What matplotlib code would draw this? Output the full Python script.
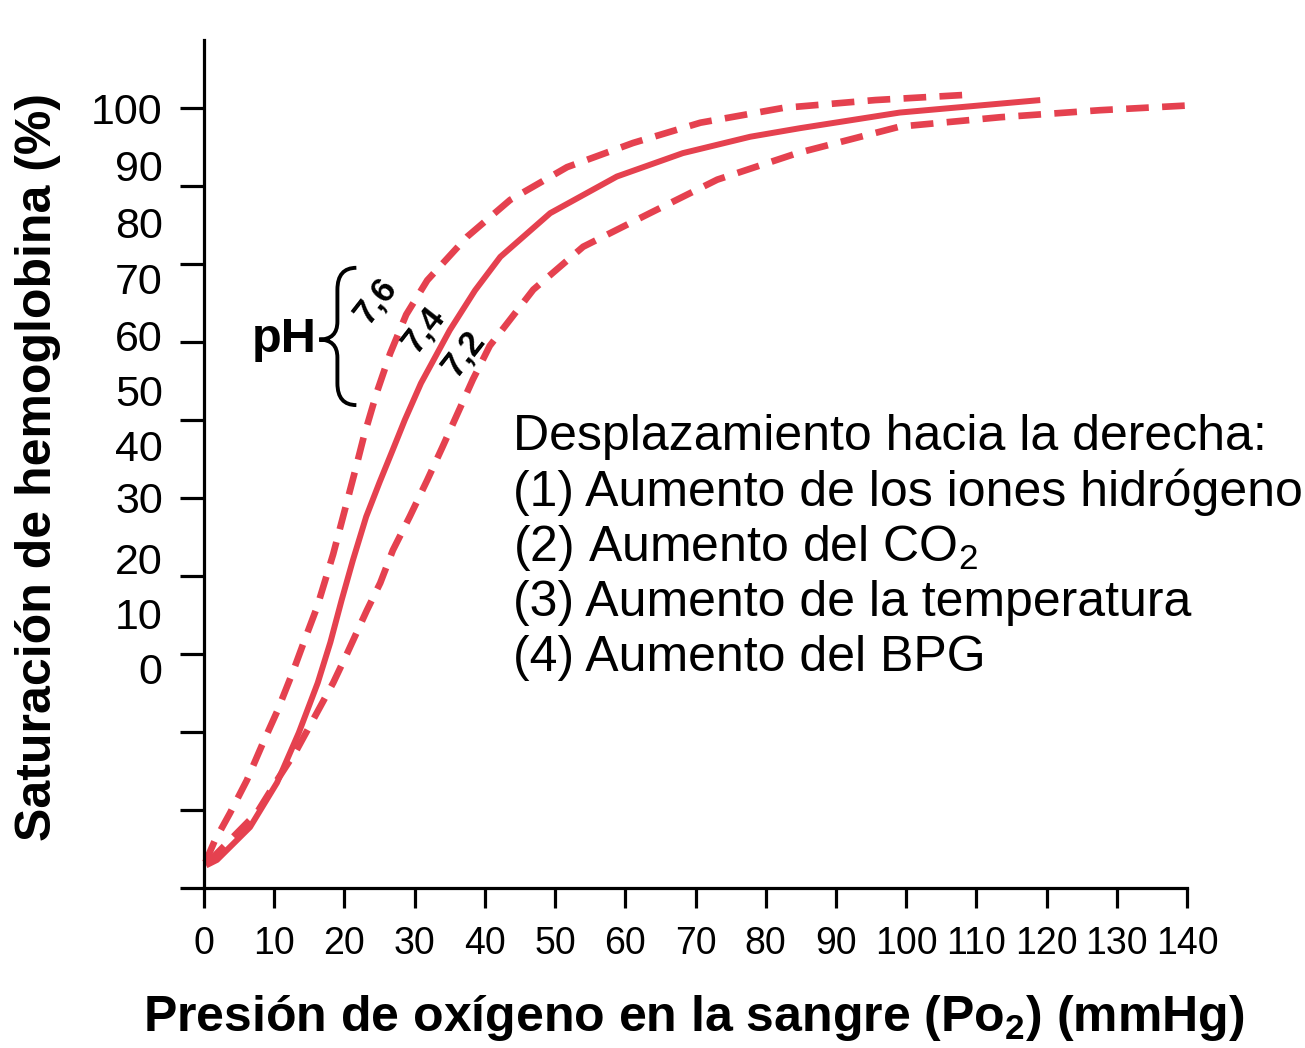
import matplotlib
matplotlib.use("Agg")
import matplotlib.pyplot as plt
from matplotlib.path import Path
from matplotlib.patches import PathPatch

plt.rcParams['font.family'] = ['Liberation Sans', 'DejaVu Sans']
plt.rcParams['mathtext.fontset'] = 'custom'
plt.rcParams['mathtext.rm'] = 'Liberation Sans'
plt.rcParams['mathtext.bf'] = 'Liberation Sans:bold'

# curves: Po2 (mmHg) vs saturation (axis units)
po2_76 = [0.2, 1.5, 3.7, 6.1, 8.4, 10.4, 12.7, 14.5, 16.1, 18.4, 20.1, 21.5, 22.8, 24.6,
          26.5, 28.8, 31.8, 37.5, 43.6, 51.7, 61.1, 70.7, 82.5, 95.6, 109.1]
sat_76 = [3.3, 6.0, 9.6, 13.8, 18.6, 22.6, 27.8, 32.2, 36.0, 42.8, 48.6, 53.4, 58.0, 63.5,
          68.5, 73.5, 77.9, 83.5, 88.2, 92.4, 95.5, 98.1, 100.0, 101.0, 101.7]

po2_74 = [0.3, 1.85, 6.55, 10.4, 13.5, 16.2, 18.0, 19.6, 21.2, 23.1, 25.0, 26.9, 28.6,
          30.9, 35.0, 38.6, 42.2, 49.3, 58.8, 68.2, 77.8, 84.9, 99.1, 119.1]
sat_74 = [2.9, 3.6, 7.8, 13.5, 19.9, 26.3, 31.5, 36.9, 42.0, 47.6, 52.0, 56.2, 60.0,
          64.7, 71.5, 76.6, 80.9, 86.5, 91.2, 94.2, 96.3, 97.4, 99.4, 101.0]

po2_72 = [0.6, 4.1, 7.5, 10.4, 13.2, 15.5, 18.4, 20.4, 23.2, 25.1, 26.9, 29.3, 31.8,
          34.0, 36.2, 38.3, 40.7, 46.9, 54.0, 63.5, 73.1, 84.5, 99.1, 113.4, 127.6, 140.0]
sat_72 = [3.3, 6.5, 9.6, 13.8, 17.7, 21.5, 26.3, 30.1, 35.6, 39.1, 43.3, 47.6, 52.3,
          56.6, 61.0, 65.2, 69.5, 76.7, 82.2, 86.5, 90.8, 94.2, 97.6, 98.8, 99.7, 100.3]

x_ticks = list(range(0, 141, 10))
y_ticks = list(range(0, 101, 10))
# the printed labels on the y axis do not sit on the ticks in the original
y_labels = ['100', '90', '80', '70', '60', '50', '40', '30', '20', '10', '0']
y_label_at = [99.4, 92.1, 84.7, 77.6, 70.3, 63.2, 56.2, 49.5, 41.7, 34.6, 27.6]

ph_labels = ['7,6', '7,4', '7,2']
ph_label_x = [24.4, 31.3, 37.0]
ph_label_y = [75.3, 71.5, 68.5]

notes = ['Desplazamiento hacia la derecha:',
         '(1) Aumento de los iones hidrógeno',
         '(2) Aumento del CO$_2$',
         '(3) Aumento de la temperatura',
         '(4) Aumento del BPG']

red = '#e5414f'

fig = plt.figure(figsize=(13.05, 10.48), dpi=100)
ax = fig.add_axes([204/1305, 1-888/1048, (1187-204)/1305, (888-40)/1048])
ax.set_xlim(0, 140)
ax.set_ylim(0, 108.7)

ax.plot(po2_76, sat_76, color=red, lw=4.8, dashes=(3.4, 2.0), clip_on=False,
        dash_joinstyle='round')
ax.plot(po2_74, sat_74, color=red, lw=4.3, clip_on=False,
        solid_capstyle='butt', solid_joinstyle='round')
ax.plot(po2_72, sat_72, color=red, lw=4.8, dashes=(3.4, 2.0), clip_on=False,
        dash_joinstyle='round')

for s in ['top', 'right']:
    ax.spines[s].set_visible(False)
for s in ['left', 'bottom']:
    ax.spines[s].set_linewidth(2.3)

ax.set_xticks(x_ticks)
ax.set_xticklabels([str(v) for v in x_ticks], fontsize=27)
ax.tick_params(axis='x', length=14.5, width=2.3, pad=13, direction='out')
ax.set_yticks(y_ticks)
ax.set_yticklabels([''] * len(y_ticks))
ax.tick_params(axis='y', length=17.3, width=2.3, direction='out')

for lab, yv in zip(y_labels, y_label_at):
    ax.text(-0.042, yv, lab, transform=ax.get_yaxis_transform(),
            ha='right', va='center', fontsize=31)

# pH brace
bx, btop, bbot, bmid = 19.0, 79.5, 61.9, 70.3
verts = [(bx + 2.7, btop), (bx, btop), (bx, btop - 2.8),
         (bx, bmid + 2.3), (bx, bmid), (bx - 2.6, bmid),
         (bx, bmid), (bx, bmid - 2.3),
         (bx, bbot + 2.8), (bx, bbot), (bx + 2.7, bbot)]
codes = [Path.MOVETO, Path.CURVE3, Path.CURVE3,
         Path.LINETO, Path.CURVE3, Path.CURVE3,
         Path.CURVE3, Path.CURVE3,
         Path.LINETO, Path.CURVE3, Path.CURVE3]
ax.add_patch(PathPatch(Path(verts, codes), fill=False, lw=2.8, color='black',
                       clip_on=False))
ax.text(bx - 3.0, bmid, 'pH', ha='right', va='center', fontsize=35,
        fontweight='bold')

for lab, xv, yv in zip(ph_labels, ph_label_x, ph_label_y):
    ax.text(xv, yv, lab, rotation=52, ha='center', va='center',
            fontsize=25, fontweight='bold', rotation_mode='anchor')

for i, line in enumerate(notes):
    ax.text(44.0, 57.8 - i * 7.08, line, ha='left', va='center', fontsize=36)

fig.text(38/1305, 1-467/1048, 'Saturación de hemoglobina (%)', rotation=90,
         ha='center', va='center', fontsize=36, fontweight='bold')
fig.text(694/1305, 1-1018/1048,
         'Presión de oxígeno en la sangre (Po$_\\mathbf{2}$) (mmHg)',
         ha='center', va='center', fontsize=36, fontweight='bold')

fig.savefig('out.png', dpi=100)
